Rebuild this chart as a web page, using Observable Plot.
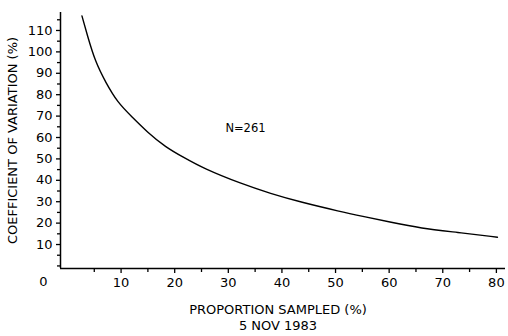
<!DOCTYPE html>
<html>
<head>
<meta charset="utf-8">
<script src="https://cdn.jsdelivr.net/npm/d3@7"></script>
<script src="https://cdn.jsdelivr.net/npm/@observablehq/plot@0.6"></script>
<style>
  html, body { margin: 0; padding: 0; background: #fff; }
  svg { font-family: "DejaVu Sans", sans-serif; }
</style>
</head>
<body>
<div id="chart"></div>
<script>
// Proportion sampled (%) and coefficient of variation (%)
const proportion = [2.7, 3.7, 5.2, 7.1, 9.3, 12.1, 14.9, 18.3, 21.6, 25.4, 32.3, 37.9, 43.5, 50.9, 55.2, 60.3, 65.9, 72.7, 80.2];
const cv =         [116.8, 107.8, 95.3, 85.9, 76.5, 69.5, 62.5, 55.5, 50.8, 45.5, 38.5, 33.8, 29.8, 25.4, 23.1, 20.4, 17.6, 15.7, 13.4];

const xMajorTicks = [10, 20, 30, 40, 50, 60, 70, 80];
const xMinorTicks = [5, 15, 25, 35, 45, 55, 65, 75];
const yMajorTicks = [10, 20, 30, 40, 50, 60, 70, 80, 90, 100, 110];
const yMinorTicks = [0, 5, 15, 25, 35, 45, 55, 65, 75, 85, 95, 105, 115];
const originLabel = ["0"];
const annotation = ["N=261"];
const annotationPos = {x: 33.2, y: 64.2};
const xTitle = "PROPORTION SAMPLED (%)";
const dateLine = "5 NOV 1983";
const yTitle = "COEFFICIENT OF VARIATION (%)";

const xDomain = [-1.3, 81.7];
const yDomain = [-1.2, 118.4];

const data = proportion.map((p, i) => ({p, cv: cv[i]}));

const chart = Plot.plot({
  width: 508,
  height: 336,
  marginLeft: 60,
  marginRight: 3,
  marginTop: 12,
  marginBottom: 68,
  style: {fontFamily: "DejaVu Sans, sans-serif", fontSize: "12px", color: "#000", background: "#fff"},
  x: {domain: xDomain, axis: null},
  y: {domain: yDomain, axis: null},
  marks: [
    Plot.ruleX([xDomain[0]], {stroke: "#000", strokeWidth: 1.5}),
    Plot.ruleY([yDomain[0]], {stroke: "#000", strokeWidth: 1.5}),
    Plot.axisX(xMajorTicks, {tickSize: 5, tickPadding: 4, strokeWidth: 1.3, fontSize: 13, letterSpacing: "1.5px", label: null}),
    Plot.axisX(xMinorTicks, {tickSize: 4, text: null, strokeWidth: 1.3, label: null}),
    Plot.axisY(yMajorTicks, {tickSize: 4, tickPadding: 4, strokeWidth: 1.3, fontSize: 13, letterSpacing: "1.2px", label: null}),
    Plot.axisY(yMinorTicks, {tickSize: 3, text: null, strokeWidth: 1.3, label: null}),
    Plot.text(originLabel, {x: xDomain[0], y: yDomain[0], text: d => d, dx: -17, dy: 13, fontSize: 13}),
    Plot.line(data, {x: "p", y: "cv", curve: "basis", stroke: "#000", strokeWidth: 1.4}),
    Plot.text(annotation, {x: annotationPos.x, y: annotationPos.y, text: d => d, fontSize: 11.5}),
    Plot.text([xTitle], {frameAnchor: "bottom", text: d => d, dx: -5, dy: 45, fontSize: 13, letterSpacing: "0.6px"}),
    Plot.text([dateLine], {frameAnchor: "bottom", text: d => d, dx: -5, dy: 61, fontSize: 13, letterSpacing: "0.6px"}),
    Plot.text([yTitle], {frameAnchor: "left", textAnchor: "middle", text: d => d, rotate: -90, dx: -48, fontSize: 13, letterSpacing: "0.9px"})
  ]
});

document.getElementById("chart").appendChild(chart);
</script>
</body>
</html>
